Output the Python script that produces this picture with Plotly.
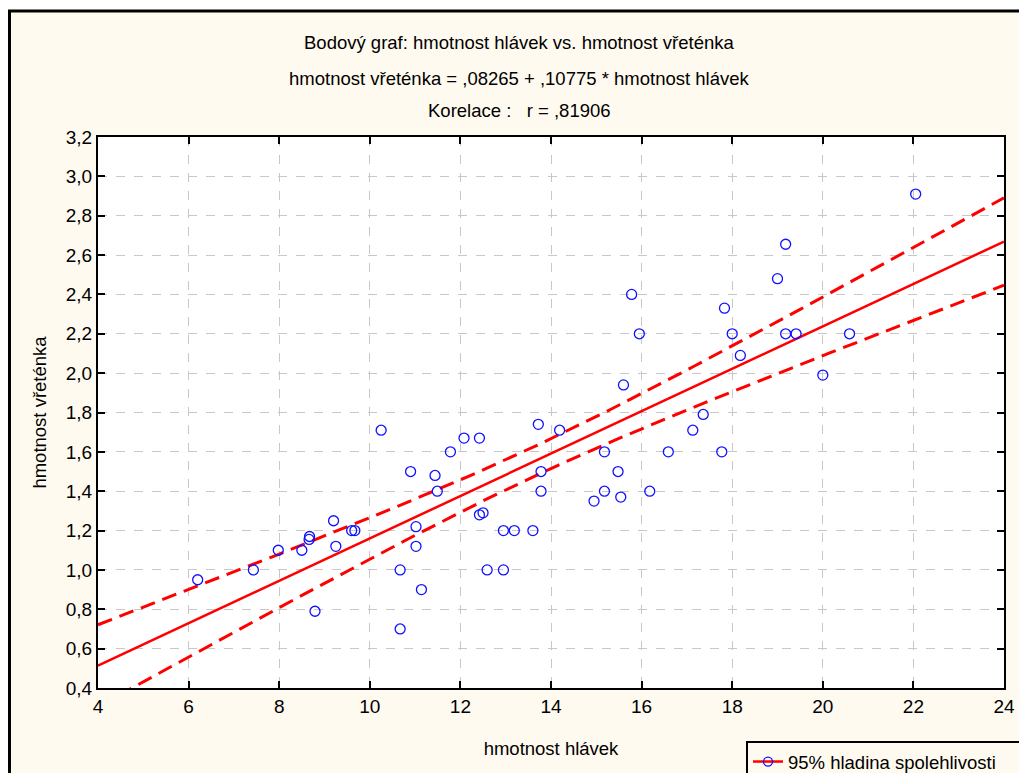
import numpy as np
import plotly.graph_objects as go

# ---- data ----
hmotnost_hlavek = [6.2, 7.43, 7.98, 8.5, 8.67, 8.66, 8.79, 9.2, 9.25, 9.6, 9.67,
                   10.25, 10.67, 10.67, 10.9, 11.02, 11.02, 11.14, 11.44, 11.49, 11.78,
                   12.08, 12.42, 12.42, 12.5, 12.59, 12.95, 12.95, 13.19, 13.6, 13.72,
                   13.78, 13.78, 14.19, 14.95, 15.18, 15.18, 15.48, 15.54, 15.6, 15.78,
                   15.95, 16.18, 16.59, 17.13, 17.36, 17.77, 17.83, 18.0, 18.18, 19.0,
                   19.18, 19.18, 19.41, 20.0, 20.59, 22.05]
hmotnost_vretenka = [0.95, 1.0, 1.10, 1.10, 1.17, 1.155, 0.79, 1.25, 1.12, 1.2, 1.2,
                     1.71, 1.0, 0.70, 1.5, 1.22, 1.12, 0.90, 1.48, 1.40, 1.60,
                     1.67, 1.67, 1.28, 1.29, 1.0, 1.0, 1.2, 1.2, 1.2, 1.74,
                     1.5, 1.40, 1.71, 1.35, 1.60, 1.40, 1.5, 1.37, 1.94, 2.4,
                     2.2, 1.40, 1.60, 1.71, 1.79, 1.60, 2.33, 2.2, 2.09, 2.48,
                     2.655, 2.2, 2.2, 1.99, 2.2, 2.91]
intercept = 0.08265
slope = 0.10775
t_crit = 2.004  # t(0.975, n-2)
x_ticks = [4, 6, 8, 10, 12, 14, 16, 18, 20, 22, 24]
y_ticks = [0.4, 0.6, 0.8, 1.0, 1.2, 1.4, 1.6, 1.8, 2.0, 2.2, 2.4, 2.6, 2.8, 3.0, 3.2]

# ---- regression and 95% confidence band from the data ----
xa = np.array(hmotnost_hlavek)
ya = np.array(hmotnost_vretenka)
n = len(xa)
resid = ya - (intercept + slope * xa)
s = np.sqrt(np.sum(resid ** 2) / (n - 2))
xbar = xa.mean()
sxx = np.sum((xa - xbar) ** 2)
xs = np.linspace(4, 24, 121)
yfit = intercept + slope * xs
half = t_crit * s * np.sqrt(1.0 / n + (xs - xbar) ** 2 / sxx)

# ---- geometry helpers (pixel -> paper) ----
L, R, T, B = 98, 1004, 137, 688
W, H = 1019, 773
def px(x):
    return (x - L) / (R - L)
def py(y):
    return (B - y) / (B - T)

CREAM = "#FFFAEF"
RED = "#FF0000"
FONT = "Liberation Sans, Arial, sans-serif"

fig = go.Figure()
fig.add_trace(go.Scatter(x=xs, y=yfit + half, mode="lines",
                         line=dict(color=RED, width=3, dash="15px,8px"), showlegend=False,
                         hoverinfo="skip"))
fig.add_trace(go.Scatter(x=xs, y=yfit - half, mode="lines",
                         line=dict(color=RED, width=3, dash="15px,8px"), showlegend=False,
                         hoverinfo="skip"))
fig.add_trace(go.Scatter(x=xs, y=yfit, mode="lines",
                         line=dict(color=RED, width=2.5), showlegend=False))
fig.add_trace(go.Scatter(x=hmotnost_hlavek, y=hmotnost_vretenka, mode="markers",
                         marker=dict(symbol="circle-open", color="#1010FF", size=10,
                                     line=dict(width=1.3, color="#1010FF")),
                         showlegend=False, cliponaxis=False))
# legend entry
fig.add_trace(go.Scatter(x=[None], y=[None], mode="lines+markers",
                         name="95% hladina spolehlivosti",
                         line=dict(color=RED, width=2.5),
                         marker=dict(symbol="circle-open", color="#1010FF", size=9,
                                     line=dict(width=1.3, color="#1010FF"))))

axis_common = dict(
    showline=True, linecolor="black", linewidth=2, mirror="ticks",
    ticks="inside", ticklen=7, tickwidth=2, tickcolor="black",
    showgrid=True, gridcolor="#C8C8C8", griddash="dash", gridwidth=1,
    zeroline=False, tickfont=dict(family=FONT, size=19, color="black"),
)
fig.update_xaxes(range=[4, 24], tickvals=x_ticks, ticktext=[str(v) for v in x_ticks],
                 title=dict(text="hmotnost hlávek", font=dict(family=FONT, size=18.5, color="black"),
                            standoff=26),
                 **axis_common)
fig.update_yaxes(range=[0.4, 3.2], tickvals=y_ticks, tickformat=".1f",
                 title=dict(text="hmotnost vřeténka", font=dict(family=FONT, size=18.5, color="black"),
                            standoff=14),
                 **axis_common)

titles = [("Bodový graf: hmotnost hlávek vs. hmotnost vřeténka", 42),
          ("hmotnost vřeténka = ,08265 + ,10775 * hmotnost hlávek", 78),
          ("Korelace :   r = ,81906", 111)]
for text, ypix in titles:
    fig.add_annotation(text=text, x=px(519), y=py(ypix), xref="paper", yref="paper",
                       showarrow=False, xanchor="center", yanchor="middle",
                       font=dict(family=FONT, size=18.5, color="black"))

# outer frame
fig.add_shape(type="rect", xref="paper", yref="paper", x0=px(-5), x1=px(W + 5),
              y0=py(-5), y1=py(9), fillcolor="white", line=dict(width=0))
fig.add_shape(type="rect", xref="paper", yref="paper", x0=px(-5), x1=px(8),
              y0=py(H + 5), y1=py(-5), fillcolor="white", line=dict(width=0))
fig.add_shape(type="line", xref="paper", yref="paper", x0=px(8), x1=px(W + 5),
              y0=py(11), y1=py(11), line=dict(color="black", width=3))
fig.add_shape(type="line", xref="paper", yref="paper", x0=px(9.5), x1=px(9.5),
              y0=py(10), y1=py(H + 5), line=dict(color="black", width=3))

fig.update_layout(
    width=W, height=H,
    margin=dict(l=L, r=W - R, t=T, b=H - B, autoexpand=False, pad=0),
    paper_bgcolor=CREAM, plot_bgcolor="white",
    separators=", ",
    font=dict(family=FONT, color="black"),
    showlegend=True,
    legend=dict(x=px(746), y=py(741), xanchor="left", yanchor="top",
                bgcolor=CREAM, bordercolor="black", borderwidth=2,
                orientation="h", entrywidth=300,
                font=dict(family=FONT, size=18.5, color="black")),
)

fig.write_html("out.html")
